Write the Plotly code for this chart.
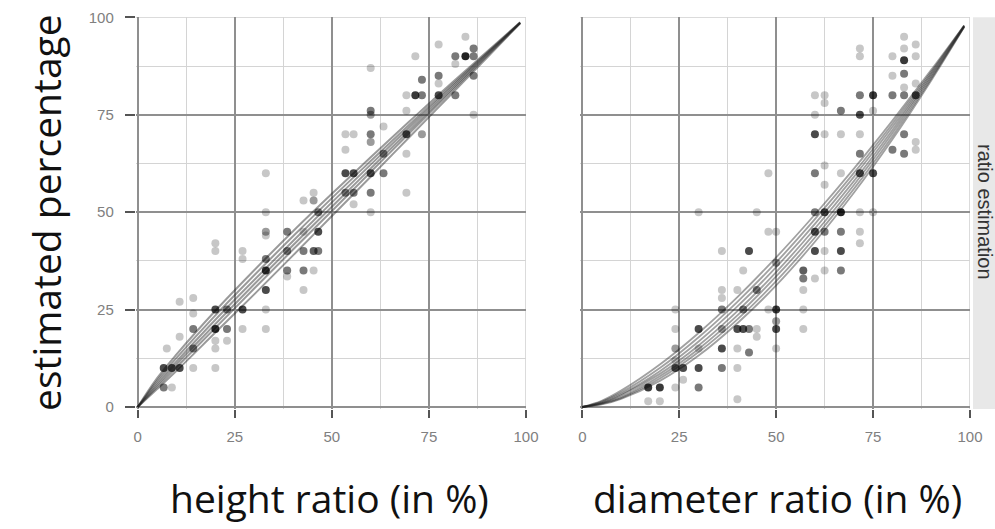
import plotly.graph_objects as go

# ---------------- data ----------------
# height panel points: x (true %), y (estimate %), n (overlap count -> darkness)
h_x = [6.7, 8.8, 10.8, 6.7, 8.8, 7.5, 10.8, 10.8,
       14.3, 14.3, 14.3, 14.3, 14.3,
       20, 20, 20, 20, 20, 20, 20,
       23, 23, 23,
       27, 27, 27, 27,
       33, 33, 33, 33, 33, 33, 33, 33, 33,
       38.5, 38.5, 38.5, 38.5,
       42.7, 42.7, 42.7, 42.7, 42.7,
       45.3, 45.3, 46.5, 46.5, 45.3, 46.5, 45.3,
       53.5, 55.6, 53.5, 53.5, 55.6, 53.5, 55.6, 55.6,
       60, 60, 60, 60, 60, 60, 60, 60,
       63.3, 63.3, 63.3,
       69.2, 69.2, 69.2, 69.2, 69.2,
       71.5, 71.5, 73.2, 73.2, 73.2,
       77.5, 77.5, 77.5, 77.5,
       81.8, 81.8, 81.8,
       84.4, 84.4,
       86.5, 86.5, 86.5, 86.5]
h_y = [10, 10, 10, 5, 5, 15, 18, 27,
       28, 24, 20, 15, 10,
       42, 40, 25, 20, 17, 15, 10,
       25, 20, 17,
       40, 38, 25, 20,
       60, 50, 45, 44, 38, 35, 30, 25, 20,
       45, 40, 35, 33.5,
       53, 45, 40, 35, 30,
       55, 53, 50, 45, 40, 40, 35,
       70, 70, 66, 60, 60, 55, 55, 52,
       87, 76, 75, 70, 68, 60, 55, 50,
       72, 65, 60,
       80, 76, 70, 65, 55,
       90, 80, 84, 80, 70,
       93, 85, 83, 80,
       90, 88, 80,
       95, 90,
       92, 90, 85, 75]
h_n = [5, 5, 5, 3, 1, 1, 1, 1,
       1, 1, 3, 3, 1,
       1, 1, 5, 7, 1, 1, 1,
       3, 3, 1,
       1, 1, 5, 1,
       1, 1, 2, 1, 3, 7, 5, 1, 1,
       3, 3, 3, 1,
       1, 1, 3, 3, 1,
       1, 2, 3, 5, 4, 3, 1,
       1, 1, 1, 5, 5, 3, 3, 1,
       1, 3, 2, 3, 2, 5, 3, 1,
       1, 3, 3,
       1, 1, 5, 1, 1,
       1, 6, 3, 3, 2,
       1, 3, 1, 5,
       3, 1, 3,
       1, 8,
       3, 3, 3, 1]

# diameter panel points
d_x = [17, 20, 17, 20,
       24, 24, 26, 24, 26, 24, 24, 24,
       30, 30, 30, 30, 30,
       36, 36, 36, 36, 36, 36, 36,
       40, 41.5, 43, 40, 40, 40, 41.5, 41.5, 40,
       43, 43, 45, 45, 45, 45,
       48, 48, 50, 48, 50, 50, 50, 50, 50,
       57, 57, 57, 57, 57,
       60, 60, 60, 60, 60, 60, 60, 60,
       62.5, 62.5, 62.5, 62.5, 62.5, 62.5, 62.5, 62.5, 62.5,
       66.7, 66.7, 66.7, 66.7, 66.7, 66.7, 66.7,
       71.6, 71.6, 71.6, 71.6, 71.6, 71.6, 71.6, 71.6, 71.6, 71.6,
       75, 75, 75, 75,
       80, 80, 80, 80,
       83, 83, 83, 83, 83, 83, 83, 83,
       86, 86, 86, 86, 86, 86]
d_y = [5, 5, 1.5, 1.5,
       5, 10, 10, 12, 7, 15, 20, 25,
       50, 20, 15, 10, 5,
       40, 30, 28, 25, 20, 15, 10,
       20, 20, 20, 15, 10, 2, 25, 35, 30,
       40, 14, 50, 30, 20, 18,
       60, 45, 45, 25, 37, 25, 22, 20, 15,
       35, 33, 30, 25, 20,
       80, 75, 70, 60, 50, 45, 40, 33,
       80, 78, 70, 62, 57, 50, 45, 40, 35,
       76, 70, 60, 50, 45, 40, 35,
       92, 90, 80, 75, 70, 65, 60, 50, 45, 42,
       80, 76, 60, 50,
       90, 85, 80, 66,
       95, 92, 89, 85.5, 82, 80, 70, 65,
       93, 90, 83, 80, 68, 66]
d_n = [6, 6, 1, 1,
       1, 5, 5, 1, 1, 2, 1, 1,
       1, 5, 1, 5, 3,
       1, 1, 1, 3, 2, 5, 3,
       5, 5, 3, 1, 1, 1, 3, 1, 1,
       5, 3, 1, 3, 1, 1,
       1, 1, 1, 1, 2, 6, 2, 5, 1,
       4, 3, 1, 1, 1,
       1, 1, 5, 3, 3, 5, 5, 1,
       1, 1, 1, 1, 1, 5, 3, 1, 1,
       3, 1, 1, 8, 3, 5, 3,
       1, 1, 3, 5, 1, 3, 5, 1, 1, 1,
       6, 1, 5, 1,
       1, 1, 3, 3,
       1, 1, 6, 3, 1, 3, 3, 3,
       1, 1, 1, 5, 1, 1]

# fitted curves (per-participant fits), values read at these x positions
fit_x = [0, 5, 10, 20, 30, 40, 50, 60, 70, 80, 90, 98.5]
h_fits = [
    [0, 7.4, 13.5, 24.7, 35.1, 45.1, 54.7, 64.1, 73.3, 82.4, 91.2, 98.7],
    [0, 6.8, 12.6, 23.5, 33.8, 43.8, 53.6, 63.1, 72.5, 81.8, 90.9, 98.65],
    [0, 6.2, 11.7, 22.4, 32.6, 42.6, 52.5, 62.2, 71.8, 81.3, 90.7, 98.6],
    [0, 5.6, 11.0, 21.3, 31.5, 41.5, 51.4, 61.2, 71.0, 80.7, 90.4, 98.55],
    [0, 5.1, 10.2, 20.3, 30.4, 40.4, 50.3, 60.3, 70.3, 80.2, 90.1, 98.5],
    [0, 4.6, 9.3, 19.1, 28.9, 38.9, 49.0, 59.1, 69.3, 79.5, 89.7, 98.45],
]
d_fits = [
    [0, 1.6, 4.2, 10.9, 19.0, 28.2, 38.4, 49.4, 61.1, 73.5, 86.5, 97.9],
    [0, 1.4, 3.7, 10.0, 17.9, 27.0, 37.1, 48.2, 60.0, 72.7, 86.0, 97.9],
    [0, 1.2, 3.3, 9.2, 16.8, 25.8, 35.9, 47.0, 59.0, 71.9, 85.6, 97.8],
    [0, 1.0, 3.0, 8.5, 15.8, 24.6, 34.6, 45.8, 57.9, 71.1, 85.1, 97.7],
    [0, 0.9, 2.6, 7.9, 14.9, 23.5, 33.5, 44.6, 56.9, 70.3, 84.7, 97.6],
    [0, 0.8, 2.3, 7.3, 14.1, 22.5, 32.3, 43.5, 55.9, 69.5, 84.2, 97.6],
    [0, 0.65, 2.1, 6.7, 13.2, 21.5, 31.2, 42.4, 54.9, 68.7, 83.8, 97.5],
]

tick_vals = [0, 25, 50, 75, 100]
tick_text = ["0", "25", "50", "75", "100"]

# ---------------- figure ----------------
ALPHA = 0.22


def opac(n):
    return [1 - (1 - ALPHA) ** k for k in n]


fig = go.Figure()

for ys in h_fits:
    fig.add_trace(go.Scatter(x=fit_x, y=ys, mode="lines", line_shape="spline",
                             line=dict(color="rgba(30,30,30,0.45)", width=2),
                             xaxis="x", yaxis="y", hoverinfo="skip", showlegend=False))
for ys in d_fits:
    fig.add_trace(go.Scatter(x=fit_x, y=ys, mode="lines", line_shape="spline",
                             line=dict(color="rgba(30,30,30,0.42)", width=1.8),
                             xaxis="x2", yaxis="y2", hoverinfo="skip", showlegend=False))

fig.add_trace(go.Scatter(x=h_x, y=h_y, mode="markers",
                         marker=dict(color="black", size=8, opacity=opac(h_n), line=dict(width=0)),
                         xaxis="x", yaxis="y", showlegend=False))
fig.add_trace(go.Scatter(x=d_x, y=d_y, mode="markers",
                         marker=dict(color="black", size=8, opacity=opac(d_n), line=dict(width=0)),
                         xaxis="x2", yaxis="y2", showlegend=False))

W, H = 995, 529
PX = 388.3 / 100  # pixels per unit
LO = -0.5
x1_left = 137.7 + LO * PX
x2_left = 582.3 + LO * PX
y_bot = 407 - LO * (390 / 100)
ydom = [1 - y_bot / H, 1 - 17.3 / H]

common = dict(
    range=[LO, 100], tickvals=tick_vals, ticktext=tick_text,
    showgrid=True, gridcolor="#8f8f8f", gridwidth=1.5,
    minor=dict(tickvals=[12.5, 37.5, 62.5, 87.5], showgrid=True,
               gridcolor="#d4d4d4", gridwidth=1.2, ticks=""),
    zeroline=False, showline=False, automargin=False,
    tickfont=dict(family="Liberation Sans, Arial, sans-serif", size=15, color="#808080"),
    ticks="outside", ticklen=8, tickwidth=1.5, tickcolor="#555555",
)

edge = dict(color="#cfcfcf", width=1.5)
shapes = [
    dict(type="rect", xref="paper", yref="paper",
         x0=973 / W, x1=1.0, y0=ydom[0], y1=ydom[1],
         fillcolor="#e8e8e8", line=dict(width=0), layer="below"),
]
for xr, yr in (("x", "y"), ("x2", "y2")):
    shapes.append(dict(type="line", xref=xr + " domain", yref=yr, x0=0, x1=1, y0=100, y1=100,
                       line=edge, layer="below"))
    shapes.append(dict(type="line", xref=xr, yref=yr + " domain", x0=100, x1=100, y0=0, y1=1,
                       line=edge, layer="below"))

big = dict(family="Open Sans, sans-serif", size=39, color="#111111")

fig.update_layout(
    width=W, height=H,
    margin=dict(l=0, r=0, t=0, b=0, pad=0, autoexpand=False),
    paper_bgcolor="white", plot_bgcolor="white",
    xaxis=dict(domain=[x1_left / W, 526 / W], anchor="y", ticklabelstandoff=6, **common),
    yaxis=dict(domain=ydom, anchor="x", ticklabelstandoff=8, **{**common, "ticklen": 10}),
    xaxis2=dict(domain=[x2_left / W, 970 / W], anchor="y2", ticklabelstandoff=6, **common),
    yaxis2=dict(domain=ydom, anchor="x2", **{**common, "ticks": "", "showticklabels": False}),
    shapes=shapes,
    annotations=[
        dict(text="ratio estimation", xref="paper", yref="paper",
             x=985 / W, y=1 - 212 / H, xanchor="center", yanchor="middle",
             showarrow=False, textangle=90,
             font=dict(family="Liberation Sans, Arial, sans-serif", size=20, color="#333333")),
        dict(text="estimated percentage", xref="paper", yref="paper",
             x=45 / W, y=1 - 213 / H, xanchor="center", yanchor="middle",
             showarrow=False, textangle=-90, font=big),
        dict(text="height ratio (in %)", xref="paper", yref="paper",
             x=329 / W, y=1 - 497 / H, xanchor="center", yanchor="middle",
             showarrow=False, font=big),
        dict(text="diameter ratio (in %)", xref="paper", yref="paper",
             x=777 / W, y=1 - 497 / H, xanchor="center", yanchor="middle",
             showarrow=False, font=big),
    ],
)

fig.write_html("out.html")
